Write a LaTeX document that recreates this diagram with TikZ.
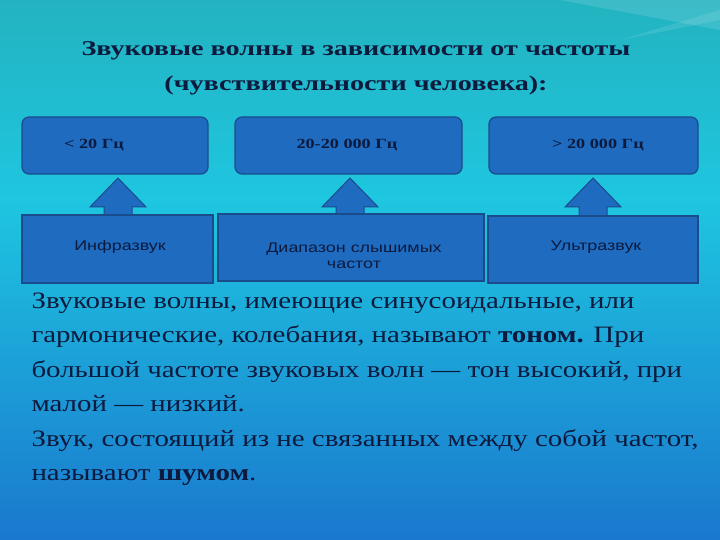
\documentclass[tikz,border=0pt]{standalone}
\usepackage{fontspec}
\setmainfont{Liberation Serif}[FakeStretch=1.3]
\newfontfamily\bodyf{Liberation Serif}[FakeStretch=1.23]
\newfontfamily\titlef{Liberation Serif}[FakeStretch=1.34]
\newfontfamily\arialf{Liberation Sans}[FakeStretch=1.28]
\definecolor{boxfill}{HTML}{1E6BC0}
\definecolor{boxline}{HTML}{1A4C8C}
\definecolor{ink}{HTML}{0C1A3E}
\definecolor{bgtop}{HTML}{23B3C0}
\definecolor{bgmid}{HTML}{1EC6E0}
\definecolor{bgbot}{HTML}{1A78CE}
\begin{document}
\begin{tikzpicture}[x=1pt,y=-1pt,
  topbox/.style={draw=boxline,line width=1.2pt,fill=boxfill,rounded corners=7pt},
  botbox/.style={draw=boxline,line width=1.2pt,fill=boxfill},
  uparrow/.style={draw=boxline,line width=1pt,fill=boxfill},
  toplab/.style={text=ink,font=\fontsize{14}{16}\selectfont\bfseries},
  botlab/.style={text=ink,font=\arialf\fontsize{14}{16}\selectfont,align=center},
  body/.style={text=ink,anchor=north west,align=left,font=\bodyf\fontsize{23.5}{34.5}\selectfont}]
\useasboundingbox (0,0) rectangle (720,540);
\shade[top color=bgtop,bottom color=bgmid] (0,0) rectangle (720,200);
\shade[top color=bgmid,bottom color=bgbot] (0,200) rectangle (720,540);
\fill[white,opacity=0.12] (560,0) -- (720,0) -- (720,30) -- cycle;
\fill[white,opacity=0.10] (620,40) -- (720,10) -- (720,20) -- cycle;
\node[text=ink,font=\titlef\fontsize{21}{35}\selectfont\bfseries,align=center] (title) at (356,68)
  {Звуковые волны в зависимости от частоты\\(чувствительности человека):};
% arrows
\foreach \c in {118,350,593}{
  \filldraw[uparrow] (\c-14,216) -- (\c-14,207) -- (\c-28,207) -- (\c,178) -- (\c+28,207) -- (\c+14,207) -- (\c+14,216);
}
\path[topbox] (22,117) rectangle (208,174);
\node[toplab] (t1) at (94,145) {< 20 Гц};
\path[topbox] (235,117) rectangle (462,174);
\node[toplab] (t2) at (347,145) {20-20 000 Гц};
\path[topbox] (489,117) rectangle (698,174);
\node[toplab] (t3) at (598,145) {> 20 000 Гц};
\path[botbox] (22,215) rectangle (213,283);
\node[botlab] (b1) at (120,247) {Инфразвук};
\path[botbox] (218,214) rectangle (484,281);
\node[botlab] (b2) at (354,256) {Диапазон слышимых\\частот};
\path[botbox] (488,216) rectangle (698,283);
\node[botlab] (b3) at (596,247) {Ультразвук};
\node[body] (txt) at (28,289) {Звуковые волны, имеющие синусоидальные, или\\
гармонические, колебания, называют \textbf{тоном.} При\\
большой частоте звуковых волн — тон высокий, при\\
малой — низкий.\\
Звук, состоящий из не связанных между собой частот,\\
называют \textbf{шумом}.};
\end{tikzpicture}
\end{document}
